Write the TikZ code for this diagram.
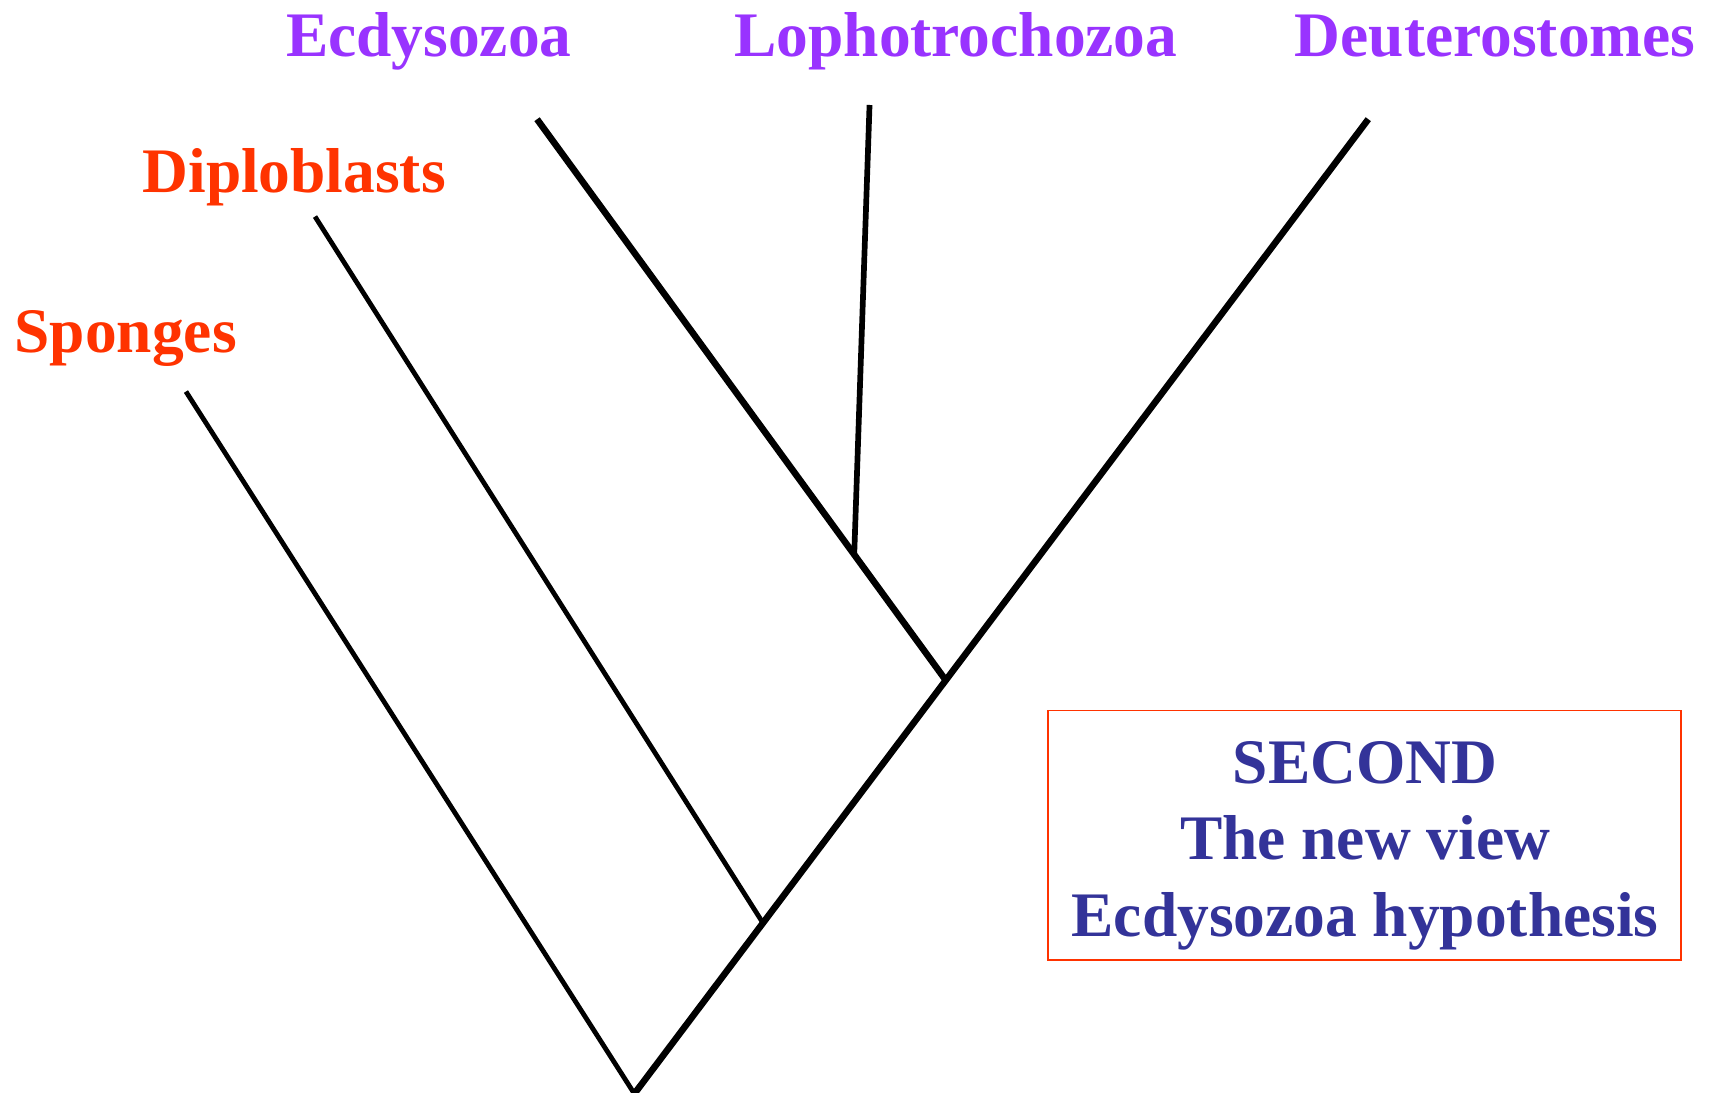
\documentclass[tikz,border=0pt]{standalone}
\usepackage{fontspec}
\setmainfont{Liberation Serif}
\definecolor{cladepurple}{HTML}{9933FF}
\definecolor{basalred}{HTML}{FF3300}
\definecolor{boxnavy}{HTML}{333399}
\begin{document}
\begin{tikzpicture}[x=0.5pt,y=-0.5pt,
  taxon/.style={font=\fontsize{29}{35}\selectfont\bfseries, anchor=base, inner sep=0pt},
  derived/.style={taxon, text=cladepurple},
  basal/.style={taxon, text=basalred},
  thickbranch/.style={line width=3pt, line cap=butt},
  thinbranch/.style={line width=2.2pt, line cap=butt}]
\useasboundingbox (0,0) rectangle (1568,999);
\fill[white] (0,0) rectangle (1568,999);

% tree nodes
\coordinate (root) at (580,1000);
\coordinate (nDip) at (697,843);
\coordinate (nBil) at (864,621);
\coordinate (nPro) at (781,507);
% branch tips
\coordinate (tSpo) at (170,358);
\coordinate (tDip) at (288,198);
\coordinate (tEcd) at (491,109);
\coordinate (tLop) at (795,96);
\coordinate (tDeu) at (1251,109);

% branches
\draw[thickbranch] (root) -- (tDeu);
\draw[thinbranch] (root) -- (tSpo);
\draw[thinbranch] (nDip) -- (tDip);
\draw[thickbranch] (nBil) -- (tEcd);
\draw[line width=2.6pt] (nPro) -- (tLop);

% labels
\node[derived] (lEcd) at (392,52) {Ecdysozoa};
\node[derived] (lLop) at (874,52) {Lophotrochozoa};
\node[derived] (lDeu) at (1367,52) {Deuterostomes};
\node[basal] (lDip) at (269,176) {Diploblasts};
\node[basal] (lSpo) at (115,322) {Sponges};

% hypothesis box
\draw[basalred, line width=0.8pt] (958.5,649.5) rectangle (1537,878);
\node[taxon, text=boxnavy] (h1) at (1248,716) {SECOND};
\node[taxon, text=boxnavy] (h2) at (1248,786) {The new view};
\node[taxon, text=boxnavy] (h3) at (1248,856) {Ecdysozoa hypothesis};
\end{tikzpicture}
\end{document}
